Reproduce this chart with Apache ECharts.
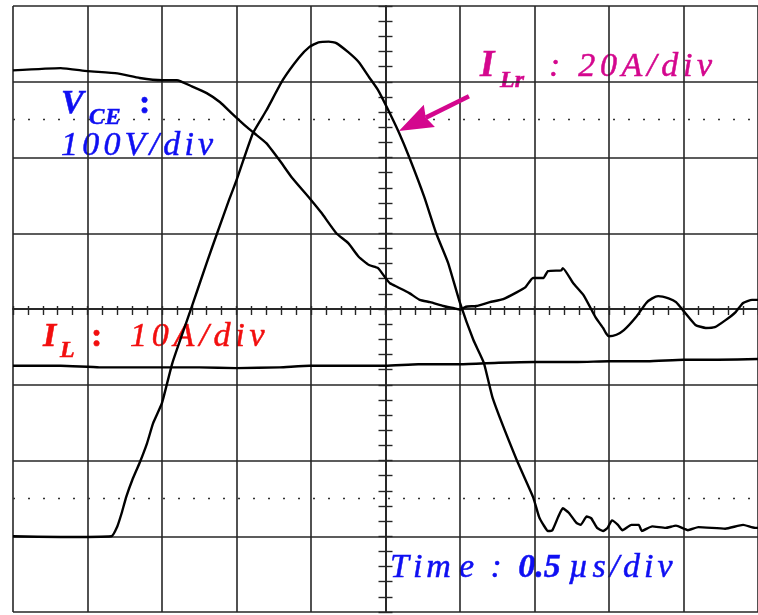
<!DOCTYPE html>
<html>
<head>
<meta charset="utf-8">
<title>VCE / ILr / IL switching waveforms</title>
<script src="https://cdn.jsdelivr.net/npm/echarts@6/dist/echarts.min.js"></script>
<style>
  html, body { margin: 0; padding: 0; background: #ffffff; }
  #chart { width: 758px; height: 615px; }
</style>
</head>
<body>
<div id="chart"></div>
<script>
// Time axis in microseconds (0.5 us/div), vertical axis in screen divisions.
const timeMin = -2.5;
const timeMax = 2.5;
const timeStep = 0.5;
const divMin = -4;
const divMax = 4;
const dottedLevels = [2.5, -2.5];

// Collector-emitter voltage trace, 100 V/div  [time us, div]
const vcePoints = [
  [-2.50, 3.15], [-2.18, 3.18], [-2.00, 3.14], [-1.80, 3.11], [-1.65, 3.05],
  [-1.50, 3.02], [-1.40, 3.02], [-1.30, 2.94], [-1.20, 2.85], [-1.11, 2.73],
  [-1.03, 2.58], [-0.93, 2.40], [-0.88, 2.32], [-0.80, 2.19], [-0.71, 1.96],
  [-0.63, 1.74], [-0.50, 1.44], [-0.43, 1.27], [-0.33, 1.00], [-0.25, 0.87],
  [-0.18, 0.69], [-0.11, 0.58], [-0.05, 0.54], [0.00, 0.41], [0.03, 0.34],
  [0.08, 0.29], [0.16, 0.21], [0.23, 0.12], [0.30, 0.09], [0.39, 0.04],
  [0.46, 0.01], [0.50, -0.01], [0.54, 0.03], [0.61, 0.04], [0.70, 0.09],
  [0.79, 0.13], [0.88, 0.22], [0.94, 0.29], [0.99, 0.41], [1.06, 0.41],
  [1.09, 0.50], [1.18, 0.51], [1.19, 0.54], [1.26, 0.34], [1.33, 0.18],
  [1.41, -0.11], [1.46, -0.25], [1.48, -0.32], [1.50, -0.36], [1.55, -0.34],
  [1.60, -0.28], [1.68, -0.11], [1.75, 0.08], [1.79, 0.14], [1.83, 0.17],
  [1.90, 0.14], [1.95, 0.09], [2.01, -0.05], [2.08, -0.21], [2.15, -0.25],
  [2.21, -0.24], [2.28, -0.15], [2.35, -0.04], [2.40, 0.08], [2.46, 0.12],
  [2.50, 0.12]
];

// Resonant inductor current trace, 20 A/div  [time us, div]
const ilrPoints = [
  [-2.50, -3.00], [-2.18, -3.01], [-1.84, -3.00], [-1.80, -2.87], [-1.77, -2.69],
  [-1.74, -2.48], [-1.70, -2.26], [-1.65, -2.03], [-1.60, -1.77], [-1.56, -1.51],
  [-1.50, -1.24], [-1.43, -0.71], [-1.30, 0.03], [-1.20, 0.61], [-1.13, 1.00],
  [-1.05, 1.44], [-1.00, 1.70], [-0.89, 2.32], [-0.80, 2.62], [-0.69, 3.02],
  [-0.58, 3.32], [-0.51, 3.46], [-0.45, 3.52], [-0.38, 3.53], [-0.33, 3.51],
  [-0.25, 3.39], [-0.18, 3.26], [-0.11, 3.06], [-0.05, 2.89], [0.01, 2.66],
  [0.09, 2.33], [0.16, 2.00], [0.26, 1.48], [0.34, 1.00], [0.42, 0.61],
  [0.50, 0.08], [0.59, -0.41], [0.66, -0.71], [0.72, -1.18], [0.88, -1.99],
  [0.99, -2.48], [1.03, -2.74], [1.06, -2.85], [1.09, -2.93], [1.12, -2.92],
  [1.16, -2.74], [1.19, -2.63], [1.23, -2.69], [1.28, -2.82], [1.31, -2.85],
  [1.35, -2.74], [1.38, -2.76], [1.42, -2.89], [1.46, -2.93], [1.49, -2.89],
  [1.52, -2.79], [1.56, -2.85], [1.59, -2.92], [1.65, -2.85], [1.70, -2.85],
  [1.72, -2.93], [1.79, -2.87], [1.88, -2.89], [1.95, -2.86], [2.03, -2.92],
  [2.10, -2.88], [2.28, -2.90], [2.40, -2.85], [2.48, -2.89], [2.50, -2.89]
];

// Load current trace, 10 A/div  [time us, div]
const ilPoints = [
  [-2.50, -0.75], [-2.18, -0.75], [-1.92, -0.77], [-1.50, -0.77], [-1.25, -0.77],
  [-1.00, -0.78], [-0.71, -0.77], [-0.51, -0.75], [-0.25, -0.75], [0.00, -0.75],
  [0.22, -0.73], [0.50, -0.73], [0.76, -0.71], [1.00, -0.70], [1.29, -0.70],
  [1.50, -0.69], [1.76, -0.69], [2.00, -0.67], [2.23, -0.67], [2.50, -0.66]
];

// Point on the ILr trace the arrow indicates, and where its tail starts
const arrowTip = [0.09, 2.35];
const arrowTail = [0.56, 2.81];

const BLUE = '#0f0ff2';
const MAGENTA = '#d4078e';
const RED = '#f20e0e';
const GRID = '#262626';
const SERIF = '"Liberation Serif", "Times New Roman", serif';

const chart = echarts.init(document.getElementById('chart'), null, { renderer: 'canvas' });

function makeX(gridIndex, inside, tickLen, showSplit) {
  return {
    gridIndex, type: 'value', min: timeMin, max: timeMax, interval: timeStep,
    axisLine: { show: true, onZero: true, lineStyle: { color: GRID, width: 1.5 } },
    axisTick: { show: true, inside, length: tickLen, lineStyle: { color: GRID, width: 1.4 } },
    minorTick: { show: true, splitNumber: 5, length: tickLen, lineStyle: { color: GRID, width: 1.4 } },
    axisLabel: { show: false },
    splitLine: { show: showSplit, lineStyle: { color: GRID, width: 1.6 } },
    minorSplitLine: { show: false }
  };
}
function makeY(gridIndex, inside, tickLen, showSplit) {
  return {
    gridIndex, type: 'value', min: divMin, max: divMax, interval: 1,
    axisLine: { show: true, onZero: true, lineStyle: { color: GRID, width: 1.5 } },
    axisTick: { show: true, inside, length: tickLen, lineStyle: { color: GRID, width: 1.4 } },
    minorTick: { show: true, splitNumber: 5, length: tickLen, lineStyle: { color: GRID, width: 1.4 } },
    axisLabel: { show: false },
    splitLine: { show: showSplit, lineStyle: { color: GRID, width: 1.6 } },
    minorSplitLine: { show: false }
  };
}

function trace(name, data) {
  return {
    name, type: 'line', xAxisIndex: 0, yAxisIndex: 0, data,
    showSymbol: false, symbol: 'none', silent: true, smooth: 0.15,
    lineStyle: { color: '#000000', width: 2.4, join: 'round' },
    z: 5
  };
}

// Wrap every character in its own rich token so letters get extra spacing.
function spaced(str, key) {
  return Array.from(str).map(ch => '{' + key + '|' + ch + '}').join('');
}
function tok(font, fill, gap, size) {
  return { font, fill, stroke: fill, lineWidth: 0.5, padding: [0, gap, 0, 0], lineHeight: size };
}
// Place a text run so that its alphabetic baseline sits at `baseline`.
function label(x, baseline, size, text, rich) {
  return {
    type: 'text', silent: true, z: -1,
    style: { x, y: baseline - 0.25 * size, text, rich, verticalAlign: 'middle', align: 'left' }
  };
}

const fIt = s => 'italic ' + s + 'px ' + SERIF;
const fBI = s => 'italic bold ' + s + 'px ' + SERIF;
const fB = s => 'bold ' + s + 'px ' + SERIF;

const labels = [
  // V_CE : 100V/div
  label(61, 113, 34, '{v|V}', { v: tok(fBI(34), BLUE, 0, 34) }),
  label(89, 123.5, 23, spaced('CE', 'c'), { c: tok(fBI(23), BLUE, 1, 23) }),
  label(139, 113, 34, '{k|:}', { k: tok(fB(34), BLUE, 0, 34) }),
  label(61, 154.5, 34, spaced('100V/div', 'a'), { a: tok(fIt(34), BLUE, 4.2, 34) }),
  // I_Lr : 20A/div
  label(480, 75.5, 37, '{i|I}', { i: tok(fBI(37), MAGENTA, 0, 37) }),
  label(500, 87, 24, spaced('Lr', 'c'), { c: tok(fBI(24), MAGENTA, 0, 24) }),
  label(549, 75.5, 34, spaced(': 20A/div', 'a'), { a: tok(fIt(34), MAGENTA, 4.7, 34) }),
  // I_L : 10A/div
  label(43, 345.5, 34, '{i|I}', { i: tok(fBI(34), RED, 0, 34) }),
  label(60, 357, 24, '{c|L}', { c: tok(fBI(24), RED, 0, 24) }),
  label(91, 345.5, 34, '{k|:}', { k: tok(fB(34), RED, 0, 34) }),
  label(130, 345.5, 34, spaced('10A/div', 'a'), { a: tok(fIt(34), RED, 4.8, 34) }),
  // Time : 0.5us/div
  label(390, 576.5, 34,
    spaced('Ti', 'a') + '{w|m}' + spaced('e : ', 'a') + '{b|0.5}' + spaced('\u00b5s/div', 'a'),
    {
      a: tok(fIt(34), BLUE, 4, 34),
      w: tok(fIt(34), BLUE, 8, 34),
      b: tok(fBI(34), BLUE, 8, 34)
    })
];

const option = {
  animation: false,
  backgroundColor: '#ffffff',
  grid: [
    { left: 13, top: 6, width: 748, height: 606, containLabel: false },
    { left: 13, top: 6, width: 748, height: 606, containLabel: false }
  ],
  xAxis: [makeX(0, false, 6, true), makeX(1, true, 3, false)],
  yAxis: [makeY(0, false, 7, true), makeY(1, true, 7, false)],
  series: [
    Object.assign(trace('VCE', vcePoints), {
      markLine: {
        silent: true, symbol: ['none', 'none'], label: { show: false },
        lineStyle: { color: '#333333', width: 1.3, type: [2, 13], dashOffset: 0 },
        data: dottedLevels.map(v => ({ yAxis: v }))
      }
    }),
    trace('ILr', ilrPoints),
    trace('IL', ilPoints)
  ],
  graphic: labels
};

chart.setOption(option);

// Arrow anchored to the ILr trace through the chart's own coordinate system
const tip = chart.convertToPixel({ gridIndex: 0 }, arrowTip);
const tail = chart.convertToPixel({ gridIndex: 0 }, arrowTail);
const dx = tail[0] - tip[0], dy = tail[1] - tip[1];
const len = Math.hypot(dx, dy);
const ux = dx / len, uy = dy / len;
const px = -uy, py = ux;
const headLen = 34, headHalf = 12.5, notch = 4;
const base = [tip[0] + ux * headLen, tip[1] + uy * headLen];
const back = [tip[0] + ux * (headLen - notch), tip[1] + uy * (headLen - notch)];

chart.setOption({
  graphic: labels.concat([
    {
      type: 'line', silent: true, z: 19,
      shape: { x1: back[0], y1: back[1], x2: tail[0], y2: tail[1] },
      style: { stroke: MAGENTA, lineWidth: 4.5, lineCap: 'butt' }
    },
    {
      type: 'polygon', silent: true, z: 19,
      shape: {
        points: [
          tip,
          [base[0] + px * headHalf, base[1] + py * headHalf],
          back,
          [base[0] - px * headHalf, base[1] - py * headHalf]
        ]
      },
      style: { fill: MAGENTA }
    }
  ])
});
</script>
</body>
</html>
